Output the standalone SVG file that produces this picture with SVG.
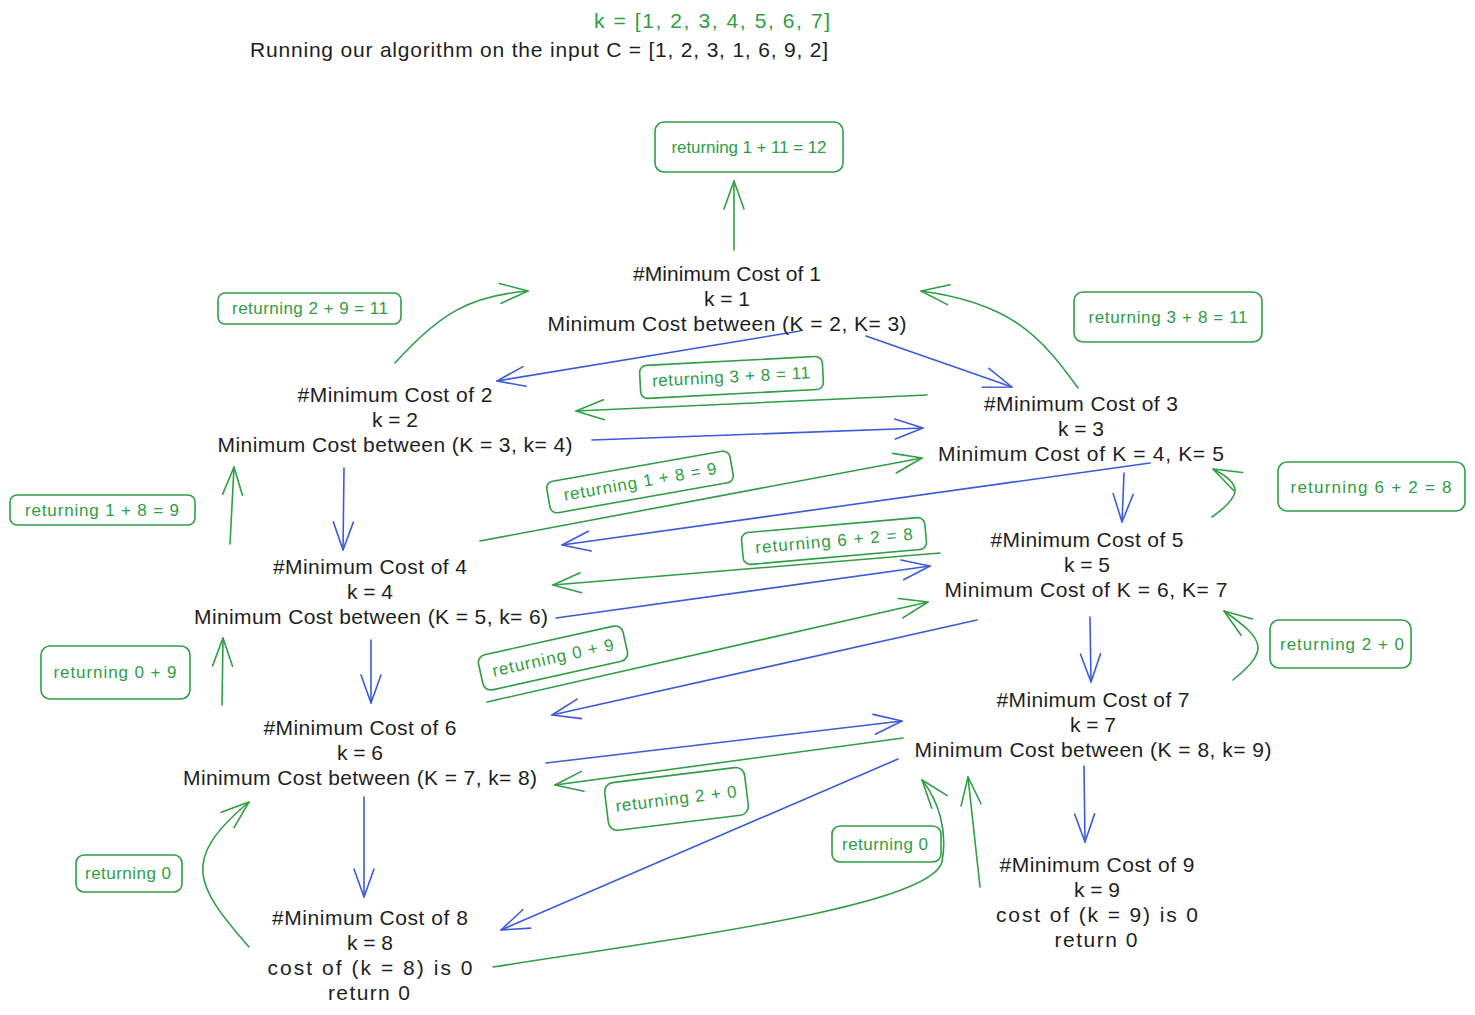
<svg xmlns="http://www.w3.org/2000/svg" width="1475" height="1015" viewBox="0 0 1475 1015">
  <defs>
    <style>
      .t { font-family: "Liberation Sans", Arial, sans-serif; font-size: 21px; fill: #1e1e1e; text-anchor: middle; dominant-baseline: central; }
      .lbl { font-family: "Liberation Sans", Arial, sans-serif; font-size: 17px; fill: #2f9e44; text-anchor: middle; dominant-baseline: central; }
      .box { fill: none; stroke: #2f9e44; stroke-width: 1.6; }
      .g { fill: none; stroke: #2f9e44; stroke-width: 1.6; stroke-linecap: round; marker-end: url(#ag); }
      .b { fill: none; stroke: #3b5bdb; stroke-width: 1.6; stroke-linecap: round; marker-end: url(#ab); }
    </style>
    <marker id="ag" viewBox="0 0 30 22" refX="29" refY="11" markerWidth="30" markerHeight="22" markerUnits="userSpaceOnUse" orient="auto">
      <path d="M1,1 L29,11 L1,21" fill="none" stroke="#2f9e44" stroke-width="1.6" stroke-linecap="round" stroke-linejoin="round"/>
    </marker>
    <marker id="ab" viewBox="0 0 30 22" refX="29" refY="11" markerWidth="30" markerHeight="22" markerUnits="userSpaceOnUse" orient="auto">
      <path d="M1,1 L29,11 L1,21" fill="none" stroke="#3b5bdb" stroke-width="1.6" stroke-linecap="round" stroke-linejoin="round"/>
    </marker>
  </defs>
  <rect width="1475" height="1015" fill="#ffffff"/>

  <!-- heading -->
  <g id="heading">
    <text class="t" x="830" y="20" textLength="236" style="text-anchor:end;fill:#2f9e44">k = [1, 2, 3, 4, 5, 6, 7]</text>
    <text class="t" x="828" y="49" textLength="578" style="text-anchor:end">Running our algorithm on the input C = [1, 2, 3, 1, 6, 9, 2]</text>
  </g>

  <!-- connectors -->
  <g id="connectors">
    <!-- returns (green) -->
    <path class="g" d="M734,250 L734,181"/>
    <path class="g" d="M395,363 C440,313 470,296 528,291"/>
    <path class="g" d="M1078,388 C1040,335 1010,303 921,291"/>
    <path class="g" d="M927,395 L576,411"/>
    <path class="g" d="M480,541 L922,458"/>
    <path class="g" d="M230,544 L234,467"/>
    <path class="g" d="M1212,517 C1240,497 1245,485 1213,469"/>
    <path class="g" d="M940,553 L553,585"/>
    <path class="g" d="M487,702 L928,602"/>
    <path class="g" d="M222,705 L223,638"/>
    <path class="g" d="M1233,680 C1270,650 1265,640 1224,611"/>
    <path class="g" d="M903,738 L555,785"/>
    <path class="g" d="M249,947 C195,885 180,860 249,802"/>
    <path class="g" d="M493,967 C700,935 930,905 942,862 C948,830 938,800 922,780"/>
    <path class="g" d="M980,887 L968,777"/>
    <!-- calls (blue) -->
    <path class="b" d="M800,331 L497,381"/>
    <path class="b" d="M866,336 L1012,387"/>
    <path class="b" d="M592,440 L923,428"/>
    <path class="b" d="M344,468 L343,550"/>
    <path class="b" d="M1150,463 L562,545"/>
    <path class="b" d="M1124,473 L1122,522"/>
    <path class="b" d="M556,618 L930,566"/>
    <path class="b" d="M371,640 L371,703"/>
    <path class="b" d="M977,620 L552,715"/>
    <path class="b" d="M1090,617 L1091,682"/>
    <path class="b" d="M546,763 L902,721"/>
    <path class="b" d="M364,797 L364,897"/>
    <path class="b" d="M898,759 L501,930"/>
    <path class="b" d="M1084,766 L1085,842"/>
  </g>

  <!-- call nodes -->
  <g id="node1">
    <text class="t" x="727" y="273" textLength="188">#Minimum Cost of 1</text>
    <text class="t" x="727" y="298">k = 1</text>
    <text class="t" x="727" y="323" textLength="359">Minimum Cost between (K = 2, K= 3)</text>
  </g>
  <g id="node2">
    <text class="t" x="395" y="394" textLength="195">#Minimum Cost of 2</text>
    <text class="t" x="395" y="419">k = 2</text>
    <text class="t" x="395" y="444" textLength="355">Minimum Cost between (K = 3, k= 4)</text>
  </g>
  <g id="node3">
    <text class="t" x="1081" y="403" textLength="194">#Minimum Cost of 3</text>
    <text class="t" x="1081" y="428">k = 3</text>
    <text class="t" x="1081" y="453" textLength="286">Minimum Cost of K = 4, K= 5</text>
  </g>
  <g id="node4">
    <text class="t" x="370" y="566" textLength="194">#Minimum Cost of 4</text>
    <text class="t" x="370" y="591">k = 4</text>
    <text class="t" x="371" y="616" textLength="354">Minimum Cost between (K = 5, k= 6)</text>
  </g>
  <g id="node5">
    <text class="t" x="1087" y="539" textLength="193">#Minimum Cost of 5</text>
    <text class="t" x="1087" y="564">k = 5</text>
    <text class="t" x="1086" y="589" textLength="283">Minimum Cost of K = 6, K= 7</text>
  </g>
  <g id="node6">
    <text class="t" x="360" y="727" textLength="193">#Minimum Cost of 6</text>
    <text class="t" x="360" y="752">k = 6</text>
    <text class="t" x="360" y="777" textLength="354">Minimum Cost between (K = 7, k= 8)</text>
  </g>
  <g id="node7">
    <text class="t" x="1093" y="699" textLength="193">#Minimum Cost of 7</text>
    <text class="t" x="1093" y="724">k = 7</text>
    <text class="t" x="1093" y="749" textLength="357">Minimum Cost between (K = 8, k= 9)</text>
  </g>
  <g id="node8">
    <text class="t" x="370" y="917" textLength="196">#Minimum Cost of 8</text>
    <text class="t" x="370" y="942">k = 8</text>
    <text class="t" x="370" y="967" textLength="205">cost of (k = 8) is 0</text>
    <text class="t" x="369" y="992" textLength="82">return 0</text>
  </g>
  <g id="node9">
    <text class="t" x="1097" y="864" textLength="195">#Minimum Cost of 9</text>
    <text class="t" x="1097" y="889">k = 9</text>
    <text class="t" x="1097" y="914" textLength="202">cost of (k = 9) is 0</text>
    <text class="t" x="1096" y="939" textLength="83">return 0</text>
  </g>

  <!-- return value labels -->
  <g id="ret-1-11">
    <rect class="box" x="655" y="122" width="188" height="50" rx="9"/>
    <text class="lbl" x="749" y="147" textLength="155">returning 1 + 11 = 12</text>
  </g>
  <g id="ret-2-9">
    <rect class="box" x="218" y="293" width="183" height="31" rx="7"/>
    <text class="lbl" x="310" y="308" textLength="156">returning 2 + 9 = 11</text>
  </g>
  <g id="ret-3-8-right">
    <rect class="box" x="1074" y="292" width="188" height="50" rx="9"/>
    <text class="lbl" x="1168" y="317" textLength="159">returning 3 + 8 = 11</text>
  </g>
  <g id="ret-3-8-mid" transform="rotate(-3 731 377)">
    <rect class="box" x="640" y="361" width="183" height="33" rx="7"/>
    <text class="lbl" x="731" y="377" textLength="158">returning 3 + 8 = 11</text>
  </g>
  <g id="ret-1-8-left">
    <rect class="box" x="10" y="495" width="185" height="30" rx="7"/>
    <text class="lbl" x="102" y="510" textLength="154">returning 1 + 8 = 9</text>
  </g>
  <g id="ret-1-8-mid" transform="rotate(-10 640 482)">
    <rect class="box" x="547" y="466" width="186" height="32" rx="7"/>
    <text class="lbl" x="640" y="482" textLength="155">returning 1 + 8 = 9</text>
  </g>
  <g id="ret-6-2-mid" transform="rotate(-5 834 541)">
    <rect class="box" x="742" y="525" width="184" height="32" rx="7"/>
    <text class="lbl" x="834" y="541" textLength="158">returning 6 + 2 = 8</text>
  </g>
  <g id="ret-6-2-right">
    <rect class="box" x="1278" y="462" width="187" height="49" rx="9"/>
    <text class="lbl" x="1371" y="487" textLength="161">returning 6 + 2 = 8</text>
  </g>
  <g id="ret-0-9-mid" transform="rotate(-12.5 553 658)">
    <rect class="box" x="479" y="640" width="148" height="36" rx="8"/>
    <text class="lbl" x="553" y="658" textLength="124">returning 0 + 9</text>
  </g>
  <g id="ret-0-9-left">
    <rect class="box" x="41" y="646" width="149" height="53" rx="9"/>
    <text class="lbl" x="115" y="672" textLength="123">returning 0 + 9</text>
  </g>
  <g id="ret-2-0-right">
    <rect class="box" x="1270" y="620" width="141" height="48" rx="9"/>
    <text class="lbl" x="1342" y="644" textLength="124">returning 2 + 0</text>
  </g>
  <g id="ret-2-0-mid" transform="rotate(-7 676 799)">
    <rect class="box" x="606" y="775" width="141" height="48" rx="9"/>
    <text class="lbl" x="676" y="799" textLength="122">returning 2 + 0</text>
  </g>
  <g id="ret-0-left">
    <rect class="box" x="76" y="855" width="106" height="37" rx="8"/>
    <text class="lbl" x="128" y="873" textLength="86">returning 0</text>
  </g>
  <g id="ret-0-mid">
    <rect class="box" x="832" y="826" width="109" height="36" rx="8"/>
    <text class="lbl" x="885" y="844" textLength="86">returning 0</text>
  </g>
</svg>
